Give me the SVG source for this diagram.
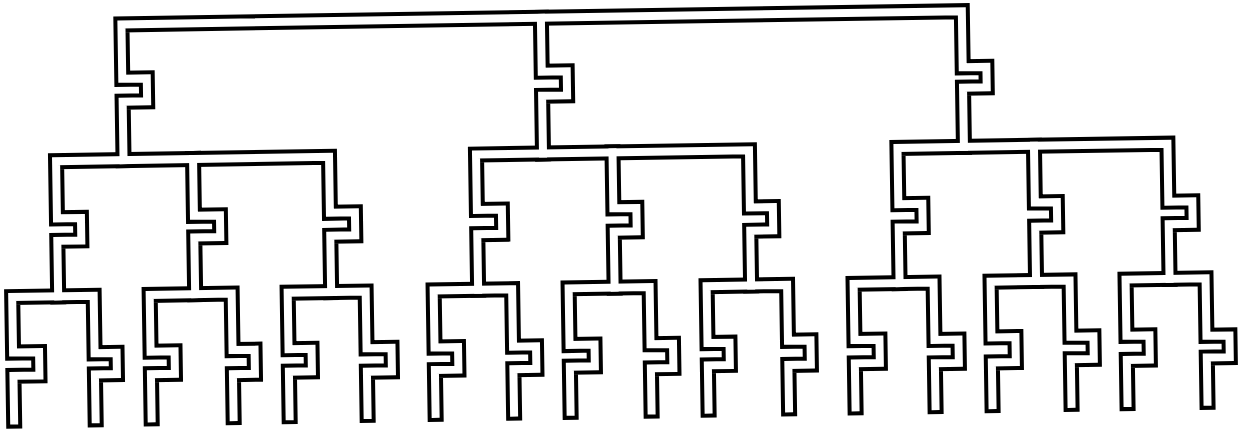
<svg xmlns="http://www.w3.org/2000/svg" width="1239" height="433" viewBox="0 0 1239 433">
<style>
.outline{fill:none;stroke:#000;stroke-width:16;stroke-linecap:square;stroke-linejoin:miter}
.inner{fill:none;stroke:#fff;stroke-width:8;stroke-linecap:square;stroke-linejoin:miter}
</style>
<defs>
<g id="tree">
<path id="root-frame" d="M124.5,152.3 V93.9 H149 V71 H124.5 V16.6 H965 V72.7 H988.7 V93.1 H965 V152.3"/>
<path id="root-middle" d="M544,16.6 V70.5 H569 V94.6 H544 V152.3"/>
<path id="mid-left" d="M57,287.5 V232 H81 V209.5 H57 V152.3 H330 V208.2 H355 V231.2 H330 V287.5"/>
<path id="mid-left-c2" d="M194,152.3 V209.1 H220 V230.8 H194 V287.5"/>
<path id="mid-middle" d="M477,287.5 V231.9 H502 V207.7 H477 V152.3 H750 V209.5 H773 V232.8 H750 V287.5"/>
<path id="mid-middle-c2" d="M613.5,152.3 V208.2 H636.5 V231.6 H613.5 V287.5"/>
<path id="mid-right" d="M898.5,287.5 V231.9 H922.5 V208.6 H898.5 V152.3 H1168.5 V210.3 H1192.5 V232.8 H1168.5 V287.5"/>
<path id="mid-right-c2" d="M1035,152.3 V209 H1057 V233.2 H1035 V287.5"/>
<path id="leaf-1" d="M11,411 V366.3 H37 V343 H11 V287.5 H92.5 V345 H114.5 V366.2 H92.5 V411"/>
<path id="leaf-2" d="M148.5,411 V366.8 H172.5 V344.3 H148.5 V287.5 H230.5 V343.9 H252.5 V368.1 H230.5 V411"/>
<path id="leaf-3" d="M286.5,411 V366.5 H309.5 V344 H286.5 V287.5 H364.5 V344.3 H389.5 V367.7 H364.5 V411"/>
<path id="leaf-4" d="M432.5,411 V367.1 H456 V344.6 H432.5 V287.5 H511 V345 H534 V367.5 H511 V411"/>
<path id="leaf-5" d="M567.5,411 V365.9 H592.5 V344.2 H567.5 V287.5 H648.5 V344.7 H671 V368.8 H648.5 V411"/>
<path id="leaf-6" d="M705.5,411 V366.7 H727.5 V344.4 H705.5 V287.5 H786 V343.4 H808.5 V367.6 H786 V411"/>
<path id="leaf-7" d="M852.5,411 V367 H877.5 V343.7 H852.5 V287.5 H932.5 V344.9 H956.5 V368.2 H932.5 V411"/>
<path id="leaf-8" d="M989.5,411 V368.3 H1013.5 V343.3 H989.5 V287.5 H1068.5 V343.8 H1091.5 V366.3 H1068.5 V411"/>
<path id="leaf-9" d="M1124.5,411 V367.9 H1147.5 V343.7 H1124.5 V287.5 H1204.5 V345 H1227.5 V366.7 H1204.5 V411"/>
</g>
</defs>
<rect width="1239" height="433" fill="#fff"/>
<g id="connectors" transform="rotate(-0.9 620 216)">
<use href="#tree" class="outline"/>
<use href="#tree" class="inner"/>
</g>
</svg>
